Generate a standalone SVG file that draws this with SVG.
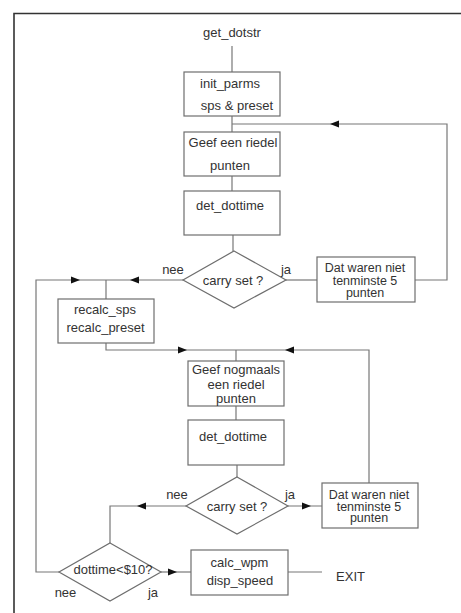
<svg xmlns="http://www.w3.org/2000/svg" xmlns:xlink="http://www.w3.org/1999/xlink" width="461" height="613" viewBox="0 0 461 613">
<style>
.box{fill:#fff;stroke:#6e6e6e;stroke-width:1.2}
.ln{fill:none;stroke:#777;stroke-width:1.2}
.frame{fill:none;stroke:#333;stroke-width:1.6}
text{font-family:"Liberation Sans",Arial,sans-serif;font-size:13px;fill:#333;text-anchor:middle}
.tight{font-size:12.5px}
.ar{fill:#111}
</style>
<defs>
<path id="ar" d="M0,0 L-9,-3.6 L-9,3.6 Z"/>
</defs>
<rect width="461" height="613" fill="#fff"/>
<path class="frame" d="M14,613 L14,13.5 L461,13.5"/>

<g id="connectors">
<path class="ln" d="M232,46 V72"/>
<path class="ln" d="M232,116 V132"/>
<path class="ln" d="M232,124 H447 V280 H415"/>
<path class="ln" d="M232,176 V191"/>
<path class="ln" d="M233,235 V251"/>
<path class="ln" d="M183,280 H36 V572 H59"/>
<path class="ln" d="M106,280 V299"/>
<path class="ln" d="M286,280 H317"/>
<path class="ln" d="M106,343 V350 H369 V483"/>
<path class="ln" d="M236,350 V361"/>
<path class="ln" d="M236,406 V420"/>
<path class="ln" d="M237,465 V477"/>
<path class="ln" d="M186,506 H110 V543"/>
<path class="ln" d="M288,506 H322"/>
<path class="ln" d="M161,572 H191"/>
<path class="ln" d="M288,572 H322"/>
<use href="#ar" class="ar" transform="translate(330,124) rotate(180)"/>
<use href="#ar" class="ar" transform="translate(130,280) rotate(180)"/>
<use href="#ar" class="ar" transform="translate(80,280)"/>
<use href="#ar" class="ar" transform="translate(187,350)"/>
<use href="#ar" class="ar" transform="translate(285,350) rotate(180)"/>
<use href="#ar" class="ar" transform="translate(137,506) rotate(180)"/>
<use href="#ar" class="ar" transform="translate(311,506)"/>
<use href="#ar" class="ar" transform="translate(177,572)"/>
</g>

<g id="start"><text x="232" y="37">get_dotstr</text></g>

<g id="init_parms">
<rect class="box" x="184" y="72" width="96" height="44"/>
<text x="230" y="88">init_parms</text>
<text x="237" y="110">sps &amp; preset</text>
</g>

<g id="geef1">
<rect class="box" x="184" y="132" width="96" height="44"/>
<text x="233" y="147">Geef een riedel</text>
<text x="230" y="170">punten</text>
</g>

<g id="det1">
<rect class="box" x="184" y="191" width="96" height="44"/>
<text x="230" y="210">det_dottime</text>
</g>

<g id="carry1">
<polygon class="box" points="234,251 286,280 234,308 183,280"/>
<text x="233" y="285">carry set ?</text>
<text x="173" y="274">nee</text>
<text x="286" y="274">ja</text>
</g>

<g id="dat1">
<rect class="box" x="317" y="257" width="98" height="45"/>
<text class="tight" x="365" y="272">Dat waren niet</text>
<text class="tight" x="365" y="284.5">tenminste 5</text>
<text class="tight" x="365" y="296.5">punten</text>
</g>

<g id="recalc">
<rect class="box" x="58" y="299" width="96" height="44"/>
<text x="105" y="314">recalc_sps</text>
<text x="105.5" y="332">recalc_preset</text>
</g>

<g id="geef2">
<rect class="box" x="188" y="361" width="96" height="45"/>
<text x="236" y="373.5">Geef nogmaals</text>
<text x="236" y="388.5">een riedel</text>
<text x="236" y="403">punten</text>
</g>

<g id="det2">
<rect class="box" x="188" y="420" width="96" height="45"/>
<text x="233" y="440.5">det_dottime</text>
</g>

<g id="carry2">
<polygon class="box" points="237,477 288,506 237,534 186,506"/>
<text x="237" y="510.5">carry set ?</text>
<text x="177" y="499">nee</text>
<text x="290" y="499">ja</text>
</g>

<g id="dat2">
<rect class="box" x="322" y="483" width="96" height="45"/>
<text class="tight" x="369" y="498.5">Dat waren niet</text>
<text class="tight" x="369" y="510.5">tenminste 5</text>
<text class="tight" x="369" y="521.5">punten</text>
</g>

<g id="dottime">
<polygon class="box" points="110,543 161,572 110,601 59,572"/>
<text x="113" y="573.5">dottime&lt;$10?</text>
<text x="65.5" y="597">nee</text>
<text x="153" y="597">ja</text>
</g>

<g id="calc">
<rect class="box" x="191" y="550" width="97" height="45"/>
<text x="239.5" y="566.5">calc_wpm</text>
<text x="240" y="584.5">disp_speed</text>
</g>

<g id="exit"><text x="350.5" y="580.5">EXIT</text></g>
</svg>
